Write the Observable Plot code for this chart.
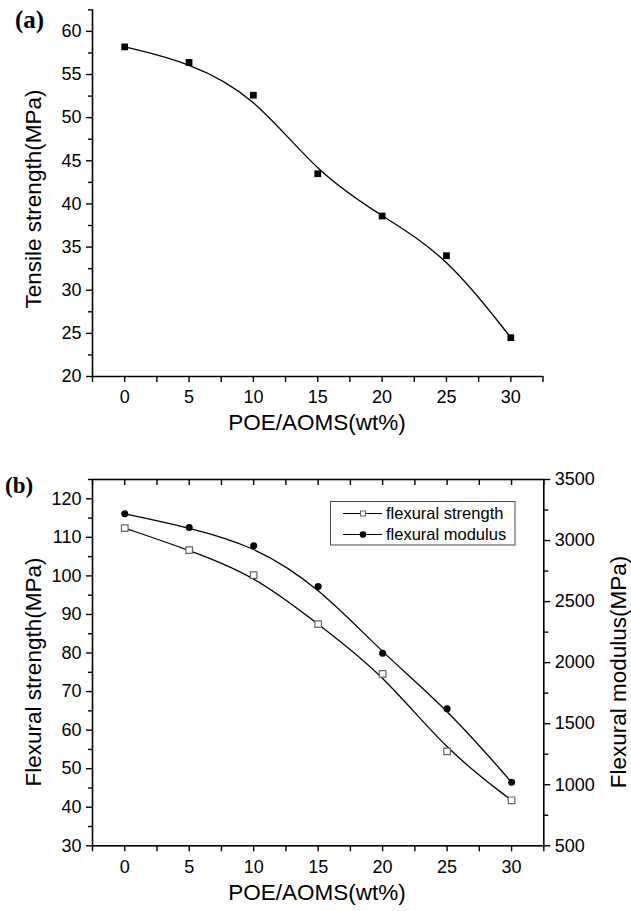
<!DOCTYPE html>
<html><head><meta charset="utf-8">
<script src="https://cdn.jsdelivr.net/npm/d3@7"></script>
<script src="https://cdn.jsdelivr.net/npm/@observablehq/plot@0.6"></script>
<style>
body{margin:0;background:#fff;}
#wrap{position:relative;width:631px;height:911px;overflow:hidden;}
#wrap svg{position:absolute;left:0;}
</style></head><body><div id="wrap"></div>
<script>
// ---- data ----
const loading = [0, 5, 10, 15, 20, 25, 30];
const tensile = [58.2, 56.4, 52.6, 43.5, 38.6, 34.0, 24.5];
const flexStrength = [112.4, 106.7, 100.2, 87.5, 74.6, 54.5, 41.8];
const flexModulus = [3219, 3107, 2957, 2624, 2077, 1622, 1021];
const xTicks = [0, 5, 10, 15, 20, 25, 30];
const xMinor = [-2.5, 2.5, 7.5, 12.5, 17.5, 22.5, 27.5, 32.5];
const tensileTicks = [20, 25, 30, 35, 40, 45, 50, 55, 60];
const tensileMinor = [22.5, 27.5, 32.5, 37.5, 42.5, 47.5, 52.5, 57.5, 62.5];
const strengthTicks = [30, 40, 50, 60, 70, 80, 90, 100, 110, 120];
const strengthMinor = [35, 45, 55, 65, 75, 85, 95, 105, 115, 125];
const modulusTicks = [500, 1000, 1500, 2000, 2500, 3000, 3500];
const modulusMinor = [750, 1250, 1750, 2250, 2750, 3250];
const seriesNames = ["flexural strength", "flexural modulus"];

const font = "'Liberation Sans', Arial, sans-serif";
const serif = "'Liberation Serif', 'Times New Roman', serif";
const wrap = document.getElementById("wrap");
const tickFont = {fontSize: 18, fontFamily: font};

// ---- panel (a) ----
const dataA = loading.map((x, i) => ({x, y: tensile[i]}));
const A = Plot.plot({
  width: 631, height: 440,
  marginLeft: 92, marginRight: 88.5, marginTop: 9.3, marginBottom: 64,
  style: {fontFamily: font, fontSize: "18px", color: "#000", background: "transparent", overflow: "visible"},
  x: {domain: [-2.5, 32.5]},
  y: {domain: [20, 62.5]},
  marks: [
    Plot.axisX({ticks: xTicks, tickSize: 6, tickPadding: 8, label: null, strokeWidth: 1.4, ...tickFont}),
    Plot.axisX({ticks: xMinor, tickSize: 6, tickFormat: () => "", label: null, strokeWidth: 1.4}),
    Plot.axisY({ticks: tensileTicks, tickSize: 6, tickPadding: 5, label: null, strokeWidth: 1.4, ...tickFont}),
    Plot.axisY({ticks: tensileMinor, tickSize: 4, tickFormat: () => "", label: null, strokeWidth: 1.4}),
    Plot.ruleX([-2.5], {strokeWidth: 1.6}),
    Plot.ruleY([20], {strokeWidth: 1.6}),
    Plot.line(dataA, {x: "x", y: "y", curve: "basis", strokeWidth: 1.3}),
    Plot.dot(dataA, {x: "x", y: "y", symbol: "square", r: 3.8, fill: "black", stroke: "none"})
  ]
});
A.style.top = "0px";
wrap.appendChild(A);
const sa = d3.select(A);
sa.append("text").attr("x", 15).attr("y", 28).attr("text-anchor", "start").attr("font-family", serif)
  .attr("font-weight", "bold").attr("font-size", 25).text("(a)");
sa.append("text").attr("transform", "translate(41,199) rotate(-90)").attr("text-anchor", "middle")
  .attr("font-family", font).attr("font-size", 22.5).text("Tensile strength(MPa)");
sa.append("text").attr("x", 317).attr("y", 430).attr("text-anchor", "middle")
  .attr("font-family", font).attr("font-size", 22.5).text("POE/AOMS(wt%)");

// ---- panel (b) ----
const m2s = v => 30 + (v - 500) * 95 / 3000;
const s2m = v => String(Math.round(500 + (v - 30) * 3000 / 95));
const dataS = loading.map((x, i) => ({x, y: flexStrength[i]}));
const dataM = loading.map((x, i) => ({x, y: m2s(flexModulus[i])}));
const B = Plot.plot({
  width: 631, height: 471,
  marginLeft: 92, marginRight: 87.7, marginTop: 39, marginBottom: 65.7,
  style: {fontFamily: font, fontSize: "18px", color: "#000", background: "transparent", overflow: "visible"},
  x: {domain: [-2.5, 32.5]},
  y: {domain: [30, 125]},
  marks: [
    Plot.axisX({ticks: xTicks, tickSize: 6, tickPadding: 8, label: null, strokeWidth: 1.4, ...tickFont}),
    Plot.axisX({ticks: xMinor, tickSize: 6, tickFormat: () => "", label: null, strokeWidth: 1.4}),
    Plot.axisX({anchor: "top", ticks: xTicks.concat(xMinor), tickSize: -5, tickFormat: () => "", label: null, strokeWidth: 1.4}),
    Plot.axisY({ticks: strengthTicks, tickSize: 6, tickPadding: 5, label: null, strokeWidth: 1.4, ...tickFont}),
    Plot.axisY({ticks: strengthMinor, tickSize: 4, tickFormat: () => "", label: null, strokeWidth: 1.4}),
    Plot.axisY({anchor: "right", ticks: modulusTicks.map(m2s), tickFormat: s2m, tickSize: 6, tickPadding: 5, label: null, strokeWidth: 1.4, ...tickFont}),
    Plot.axisY({anchor: "right", ticks: modulusMinor.map(m2s), tickFormat: () => "", tickSize: 4, label: null, strokeWidth: 1.4}),
    Plot.frame({strokeWidth: 1.6}),
    Plot.line(dataS, {x: "x", y: "y", curve: "basis", strokeWidth: 1.3}),
    Plot.line(dataM, {x: "x", y: "y", curve: "basis", strokeWidth: 1.3}),
    Plot.dot(dataS, {x: "x", y: "y", symbol: "square", r: 3.7, fill: "white", stroke: "#666", strokeWidth: 1.2}),
    Plot.dot(dataM, {x: "x", y: "y", r: 3.5, fill: "black", stroke: "none"})
  ]
});
B.style.top = "440px";
wrap.appendChild(B);
const sb = d3.select(B);
sb.append("text").attr("x", 5).attr("y", 53).attr("text-anchor", "start").attr("font-family", serif)
  .attr("font-weight", "bold").attr("font-size", 23).text("(b)");
sb.append("text").attr("transform", "translate(41,232) rotate(-90)").attr("text-anchor", "middle")
  .attr("font-family", font).attr("font-size", 22.5).text("Flexural strength(MPa)");
sb.append("text").attr("transform", "translate(626,232) rotate(-90)").attr("text-anchor", "middle")
  .attr("font-family", font).attr("font-size", 22.5).text("Flexural modulus(MPa)");
sb.append("text").attr("x", 317).attr("y", 460).attr("text-anchor", "middle")
  .attr("font-family", font).attr("font-size", 22.5).text("POE/AOMS(wt%)");
// legend
const lg = sb.append("g");
lg.append("rect").attr("x", 330.5).attr("y", 61.5).attr("width", 184.5).attr("height", 43.5)
  .attr("fill", "white").attr("stroke", "#444").attr("stroke-width", 1);
seriesNames.forEach((name, i) => {
  const cy = 73.5 + i * 21;
  lg.append("line").attr("x1", 343).attr("x2", 382).attr("y1", cy).attr("y2", cy).attr("stroke", "black").attr("stroke-width", 1.2);
  if (i === 0) lg.append("rect").attr("x", 360.5).attr("y", cy - 2.5).attr("width", 5).attr("height", 5)
    .attr("fill", "white").attr("stroke", "#666").attr("stroke-width", 1);
  else lg.append("circle").attr("cx", 363).attr("cy", cy).attr("r", 3.3).attr("fill", "black");
  lg.append("text").attr("x", 386).attr("y", cy).attr("dy", "0.35em").attr("text-anchor", "start")
    .attr("font-family", font).attr("font-size", 16.5).text(name);
});
</script></body></html>
